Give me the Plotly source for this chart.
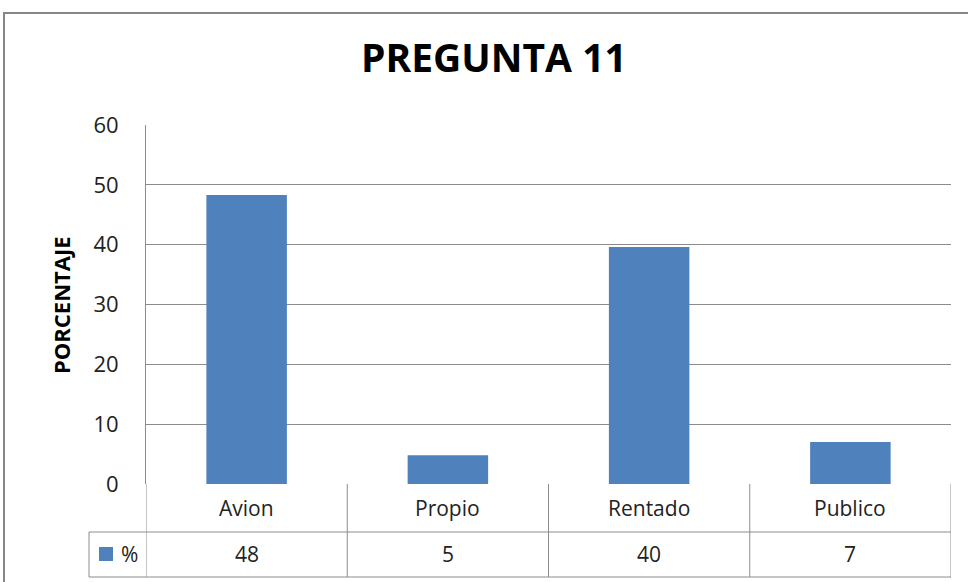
import plotly.graph_objects as go

# datos
categorias = ["Avion", "Propio", "Rentado", "Publico"]
porcentaje = [48.3, 4.8, 39.6, 7.0]
serie = "%"
titulo = "PREGUNTA 11"
eje_y = "PORCENTAJE"
ticks_y = [0, 10, 20, 30, 40, 50, 60]

W, H = 968, 582
AZUL = "#4F81BD"
GRIS = "#8C8C8C"
FUENTE = "Open Sans, Calibri, sans-serif"


def px(x):
    return x / W


def py(y):
    return 1 - y / H


fig = go.Figure()

fig.add_trace(go.Bar(
    x=categorias,
    y=porcentaje,
    name=serie,
    marker=dict(color=AZUL, line=dict(width=0)),
    showlegend=False,
))

shapes = []
annotations = []

# marco exterior del grafico
shapes.append(dict(type="rect", xref="paper", yref="paper",
                   x0=px(4), x1=px(W + 40), y0=py(H + 40), y1=py(13),
                   line=dict(color="#868686", width=2), layer="below"))

# tabla de datos: lineas horizontales
for yy in (532, 577):
    shapes.append(dict(type="line", xref="paper", yref="paper",
                       x0=px(89), x1=px(951), y0=py(yy), y1=py(yy),
                       line=dict(color=GRIS, width=1)))
# celda de leyenda
shapes.append(dict(type="line", xref="paper", yref="paper",
                   x0=px(89), x1=px(89), y0=py(532), y1=py(577),
                   line=dict(color=GRIS, width=1)))
# lineas verticales entre categorias
for i in range(len(categorias) + 1):
    shapes.append(dict(type="line", xref="x", yref="paper",
                       x0=i - 0.5, x1=i - 0.5, y0=py(577), y1=py(484),
                       line=dict(color=GRIS, width=1)))

txt = dict(size=21, color="#222222", family=FUENTE)
# textos de la tabla
for i, (c, v) in enumerate(zip(categorias, porcentaje)):
    annotations.append(dict(x=i, y=py(508), xref="x", yref="paper",
                            xanchor="center", yanchor="middle",
                            text=c, showarrow=False, font=txt))
    annotations.append(dict(x=i, y=py(554), xref="x", yref="paper",
                            xanchor="center", yanchor="middle",
                            text=f"{v:.0f}", showarrow=False, font=txt))

# leyenda dentro de la tabla
shapes.append(dict(type="rect", xref="paper", yref="paper",
                   x0=px(99), x1=px(113), y0=py(561), y1=py(547),
                   fillcolor=AZUL, line=dict(width=0)))
annotations.append(dict(x=px(129), y=py(554), xref="paper", yref="paper",
                        xanchor="center", yanchor="middle",
                        text=serie, showarrow=False, font=txt))

# titulo y eje y
annotations.append(dict(x=px(494), y=py(57), xref="paper", yref="paper",
                        xanchor="center", yanchor="middle",
                        text=f"<b>{titulo}</b>", showarrow=False,
                        font=dict(size=39, color="#000000", family=FUENTE)))
annotations.append(dict(x=px(61), y=py(305), xref="paper", yref="paper",
                        xanchor="center", yanchor="middle",
                        text=f"<b>{eje_y}</b>", showarrow=False, textangle=-90,
                        font=dict(size=22, color="#000000", family=FUENTE)))

fig.update_layout(
    width=W, height=H,
    margin=dict(l=0, r=0, t=0, b=0, autoexpand=False),
    paper_bgcolor="white",
    plot_bgcolor="white",
    bargap=0.6,
    shapes=shapes,
    annotations=annotations,
    xaxis=dict(domain=[px(146), px(951)], range=[-0.5, 3.5],
               showticklabels=False, showgrid=False, zeroline=False,
               showline=False, fixedrange=True, automargin=False),
    yaxis=dict(domain=[py(484), py(125)], range=[0, 60],
               tickvals=ticks_y, showgrid=True, gridcolor=GRIS, gridwidth=1,
               zeroline=False, showline=True, linecolor=GRIS, linewidth=1,
               ticks="outside", ticklen=0, ticklabelstandoff=22,
               tickfont=dict(size=22, color="#222222", family=FUENTE),
               fixedrange=True, automargin=False),
)

# sin margen en el body para que el grafico ocupe la ventana entera
fig.write_html("out.html", config={"displayModeBar": False},
               post_script="document.body.style.margin='0';")
